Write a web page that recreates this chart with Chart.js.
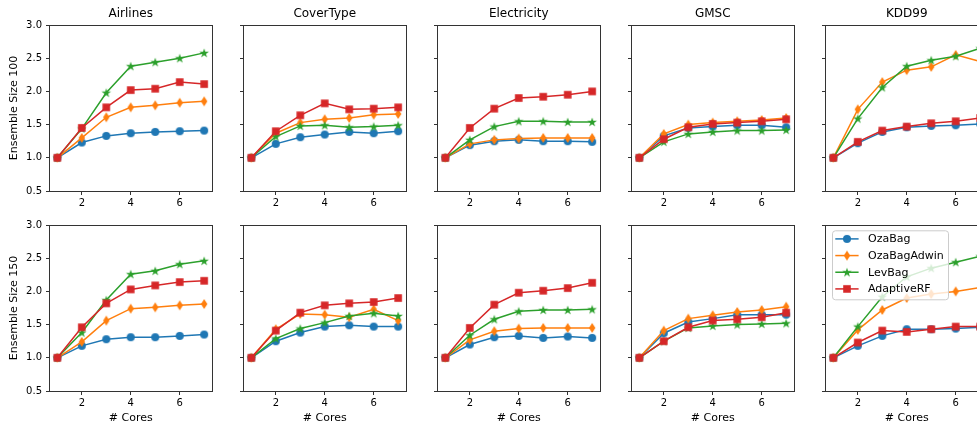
<!DOCTYPE html>
<html>
<head>
<meta charset="utf-8">
<script src="https://cdn.jsdelivr.net/npm/chart.js@4.4.0/dist/chart.umd.min.js"></script>
<style>
html, body { margin: 0; padding: 0; background: #fff; width: 977px; height: 428px; overflow: hidden; }
canvas { position: absolute; }
</style>
</head>
<body>
<script>
// x values and ticks
const cores = [1, 2, 3, 4, 5, 6, 7];
const xTicks = [2, 4, 6];
const yTicks = [0.5, 1.0, 1.5, 2.0, 2.5, 3.0];

const panelTitles = ['Airlines', 'CoverType', 'Electricity', 'GMSC', 'KDD99'];
const rowLabels = ['Ensemble Size 100', 'Ensemble Size 150'];
const methods = ['OzaBag', 'OzaBagAdwin', 'LevBag', 'AdaptiveRF'];
const colors = ['#1f77b4', '#ff7f0e', '#2ca02c', '#d62728'];

// Ensemble size 100
const airlines100_ozaBag      = [1.00, 1.23, 1.33, 1.37, 1.39, 1.40, 1.41];
const airlines100_ozaBagAdwin = [1.00, 1.30, 1.61, 1.76, 1.79, 1.83, 1.85];
const airlines100_levBag      = [1.00, 1.44, 1.98, 2.38, 2.44, 2.50, 2.58];
const airlines100_adaptiveRF  = [1.00, 1.45, 1.76, 2.02, 2.04, 2.14, 2.11];

const covertype100_ozaBag      = [1.00, 1.21, 1.31, 1.35, 1.39, 1.37, 1.40];
const covertype100_ozaBagAdwin = [1.00, 1.37, 1.53, 1.58, 1.60, 1.65, 1.66];
const covertype100_levBag      = [1.00, 1.32, 1.48, 1.49, 1.46, 1.47, 1.49];
const covertype100_adaptiveRF  = [1.00, 1.40, 1.64, 1.82, 1.73, 1.74, 1.76];

const electricity100_ozaBag      = [1.00, 1.19, 1.25, 1.27, 1.25, 1.25, 1.24];
const electricity100_ozaBagAdwin = [1.00, 1.21, 1.27, 1.29, 1.30, 1.30, 1.30];
const electricity100_levBag      = [1.00, 1.27, 1.47, 1.55, 1.55, 1.54, 1.54];
const electricity100_adaptiveRF  = [1.00, 1.45, 1.74, 1.90, 1.92, 1.95, 2.00];

const gmsc100_ozaBag      = [1.00, 1.33, 1.45, 1.47, 1.49, 1.49, 1.46];
const gmsc100_ozaBagAdwin = [1.00, 1.36, 1.50, 1.53, 1.55, 1.57, 1.60];
const gmsc100_levBag      = [1.00, 1.24, 1.36, 1.39, 1.41, 1.41, 1.42];
const gmsc100_adaptiveRF  = [1.00, 1.28, 1.46, 1.51, 1.53, 1.55, 1.58];

const kdd100_ozaBag      = [1.00, 1.22, 1.39, 1.46, 1.48, 1.49, 1.51];
const kdd100_ozaBagAdwin = [1.00, 1.73, 2.14, 2.32, 2.37, 2.55, 2.45];
const kdd100_levBag      = [1.00, 1.59, 2.06, 2.38, 2.47, 2.53, 2.65];
const kdd100_adaptiveRF  = [1.00, 1.24, 1.41, 1.47, 1.52, 1.55, 1.60];

// Ensemble size 150
const airlines150_ozaBag      = [1.00, 1.18, 1.28, 1.31, 1.31, 1.33, 1.35];
const airlines150_ozaBagAdwin = [1.00, 1.24, 1.56, 1.74, 1.76, 1.79, 1.81];
const airlines150_levBag      = [1.00, 1.38, 1.87, 2.26, 2.31, 2.41, 2.46];
const airlines150_adaptiveRF  = [1.00, 1.46, 1.82, 2.03, 2.09, 2.14, 2.16];

const covertype150_ozaBag      = [1.00, 1.25, 1.38, 1.47, 1.49, 1.47, 1.47];
const covertype150_ozaBagAdwin = [1.00, 1.43, 1.66, 1.65, 1.61, 1.73, 1.56];
const covertype150_levBag      = [1.00, 1.29, 1.44, 1.53, 1.63, 1.67, 1.63];
const covertype150_adaptiveRF  = [1.00, 1.41, 1.68, 1.79, 1.82, 1.84, 1.90];

const electricity150_ozaBag      = [1.00, 1.20, 1.31, 1.33, 1.30, 1.32, 1.30];
const electricity150_ozaBagAdwin = [1.00, 1.27, 1.40, 1.44, 1.45, 1.45, 1.45];
const electricity150_levBag      = [1.00, 1.34, 1.58, 1.70, 1.72, 1.72, 1.73];
const electricity150_adaptiveRF  = [1.00, 1.45, 1.80, 1.98, 2.01, 2.05, 2.13];

const gmsc150_ozaBag      = [1.00, 1.37, 1.54, 1.59, 1.65, 1.65, 1.65];
const gmsc150_ozaBagAdwin = [1.00, 1.41, 1.59, 1.64, 1.69, 1.72, 1.77];
const gmsc150_levBag      = [1.00, 1.25, 1.45, 1.48, 1.50, 1.51, 1.52];
const gmsc150_adaptiveRF  = [1.00, 1.25, 1.46, 1.56, 1.58, 1.61, 1.68];

const kdd150_ozaBag      = [1.00, 1.18, 1.33, 1.43, 1.43, 1.44, 1.46];
const kdd150_ozaBagAdwin = [1.00, 1.42, 1.72, 1.90, 1.96, 2.00, 2.06];
const kdd150_levBag      = [1.00, 1.47, 1.92, 2.22, 2.35, 2.44, 2.53];
const kdd150_adaptiveRF  = [1.00, 1.23, 1.41, 1.39, 1.43, 1.47, 1.47];

// grid of panels: [row][col] -> series in methods order
const panels = [
    [
        [airlines100_ozaBag, airlines100_ozaBagAdwin, airlines100_levBag, airlines100_adaptiveRF],
        [covertype100_ozaBag, covertype100_ozaBagAdwin, covertype100_levBag, covertype100_adaptiveRF],
        [electricity100_ozaBag, electricity100_ozaBagAdwin, electricity100_levBag, electricity100_adaptiveRF],
        [gmsc100_ozaBag, gmsc100_ozaBagAdwin, gmsc100_levBag, gmsc100_adaptiveRF],
        [kdd100_ozaBag, kdd100_ozaBagAdwin, kdd100_levBag, kdd100_adaptiveRF]
    ],
    [
        [airlines150_ozaBag, airlines150_ozaBagAdwin, airlines150_levBag, airlines150_adaptiveRF],
        [covertype150_ozaBag, covertype150_ozaBagAdwin, covertype150_levBag, covertype150_adaptiveRF],
        [electricity150_ozaBag, electricity150_ozaBagAdwin, electricity150_levBag, electricity150_adaptiveRF],
        [gmsc150_ozaBag, gmsc150_ozaBagAdwin, gmsc150_levBag, gmsc150_adaptiveRF],
        [kdd150_ozaBag, kdd150_ozaBagAdwin, kdd150_levBag, kdd150_adaptiveRF]
    ]
];

// layout
const panelLefts = [50, 244, 438, 632, 826];
const plotW = 162, plotH = 166;
const axisW = 50, padRight = 6;
const FONT = "'DejaVu Sans', sans-serif";

Chart.defaults.font.family = FONT;
Chart.defaults.font.size = 10;
Chart.defaults.color = '#000';

// marker images (matplotlib o, d, *, s)
function makeMarker(shape, color) {
    const c = document.createElement('canvas');
    c.width = 12; c.height = 12;
    const g = c.getContext('2d');
    g.fillStyle = color;
    g.beginPath();
    if (shape === 'circle') {
        g.arc(6, 6, 4, 0, Math.PI * 2);
    } else if (shape === 'thinDiamond') {
        g.moveTo(6, 1); g.lineTo(9.2, 6); g.lineTo(6, 11); g.lineTo(2.8, 6);
        g.closePath();
    } else if (shape === 'star') {
        const ro = 5, ri = 5 * 0.382;
        for (let i = 0; i < 10; i++) {
            const r = i % 2 === 0 ? ro : ri;
            const a = -Math.PI / 2 + i * Math.PI / 5;
            const px = 6 + r * Math.cos(a), py = 6.4 + r * Math.sin(a);
            if (i === 0) g.moveTo(px, py); else g.lineTo(px, py);
        }
        g.closePath();
    } else {
        g.rect(2.2, 2.2, 7.6, 7.6);
    }
    g.fill();
    return c;
}
const shapes = ['circle', 'thinDiamond', 'star', 'square'];
const markers = shapes.map((s, i) => makeMarker(s, colors[i]));

// spines + legend drawn on top of lines
const framePlugin = {
    id: 'frame',
    afterDatasetsDraw(chart) {
        const a = chart.chartArea;
        const ctx = chart.ctx;
        ctx.save();
        ctx.strokeStyle = '#333';
        ctx.lineWidth = 1;
        ctx.strokeRect(Math.round(a.left) - 0.5, Math.round(a.top) + 0.5,
            Math.round(a.right - a.left) + 1, Math.round(a.bottom - a.top));
        ctx.restore();

        if (!chart.options.plugins.frame || !chart.options.plugins.frame.legend) return;
        const lx = a.left + 6, ly = a.top + 5.3, lw = 116, lh = 69;
        ctx.save();
        ctx.beginPath();
        ctx.roundRect(lx + 0.5, ly + 0.5, lw, lh, 3);
        ctx.fillStyle = 'rgba(255,255,255,0.8)';
        ctx.fill();
        ctx.strokeStyle = '#cccccc';
        ctx.lineWidth = 1;
        ctx.stroke();
        ctx.font = "11px " + FONT;
        ctx.textBaseline = 'middle';
        ctx.textAlign = 'left';
        methods.forEach((m, i) => {
            const y = ly + 8.6 + i * 16.67;
            ctx.strokeStyle = colors[i];
            ctx.lineWidth = 1.5;
            ctx.beginPath();
            ctx.moveTo(lx + 3.3, y);
            ctx.lineTo(lx + 26.6, y);
            ctx.stroke();
            ctx.drawImage(markers[i], lx + 15 - 6, y - 6);
            ctx.fillStyle = '#000';
            ctx.fillText(m, lx + 36, y + 0.5);
        });
        ctx.restore();
    }
};

function makePanel(row, col) {
    const canvas = document.createElement('canvas');
    const top = row === 0 ? 0 : 215;
    const titleH = 25;
    const padTop = row === 0 ? 0 : 10;
    const xAxisH = row === 0 ? 25 : 36;
    const h = (row === 0 ? titleH : padTop) + plotH + xAxisH;
    const w = axisW + plotW + padRight;
    canvas.width = w; canvas.height = h;
    canvas.style.left = (panelLefts[col] - axisW) + 'px';
    canvas.style.top = top + 'px';
    document.body.appendChild(canvas);

    const series = panels[row][col];
    const datasets = series.map((vals, i) => ({
        label: methods[i],
        data: cores.map((x, k) => ({ x: x, y: vals[k] })),
        borderColor: colors[i],
        backgroundColor: colors[i],
        borderWidth: 1.5,
        pointStyle: markers[i],
        pointRadius: 5,
        tension: 0,
        order: 3 - i,
        clip: false
    }));

    new Chart(canvas, {
        type: 'line',
        data: { datasets: datasets },
        options: {
            responsive: false,
            animation: false,
            events: [],
            devicePixelRatio: 1,
            layout: { padding: { top: padTop, right: padRight, left: 0, bottom: 0 } },
            plugins: {
                legend: { display: false },
                tooltip: { enabled: false },
                title: {
                    display: row === 0,
                    text: panelTitles[col],
                    fullSize: false,
                    font: { size: 12, lineHeight: 1, weight: 'normal' },
                    padding: { top: 8, bottom: 5 },
                    color: '#000'
                },
                frame: { legend: row === 1 && col === 4 }
            },
            scales: {
                x: {
                    type: 'linear',
                    min: 0.7,
                    max: 7.3,
                    afterBuildTicks: s => { s.ticks = xTicks.map(v => ({ value: v })); },
                    afterFit: s => { s.height = xAxisH; },
                    ticks: { callback: v => String(v), padding: 2, maxRotation: 0 },
                    grid: { drawOnChartArea: false, drawTicks: true, tickLength: 4, color: '#333', lineWidth: 1 },
                    border: { display: false },
                    title: {
                        display: row === 1,
                        text: '# Cores',
                        font: { size: 11 },
                        padding: { top: 0, bottom: 2 }
                    }
                },
                y: {
                    type: 'linear',
                    min: 0.5,
                    max: 3.0,
                    afterBuildTicks: s => { s.ticks = yTicks.map(v => ({ value: v })); },
                    afterFit: s => { s.width = axisW; },
                    ticks: { display: col === 0, callback: v => v.toFixed(1), padding: 4 },
                    grid: { drawOnChartArea: false, drawTicks: true, tickLength: 4, color: '#333', lineWidth: 1 },
                    border: { display: false },
                    title: {
                        display: col === 0,
                        text: rowLabels[row],
                        font: { size: 11 },
                        padding: { top: 8, bottom: 0 }
                    }
                }
            }
        },
        plugins: [framePlugin]
    });
}

for (let r = 0; r < 2; r++) {
    for (let c = 0; c < 5; c++) {
        makePanel(r, c);
    }
}
</script>
</body>
</html>
